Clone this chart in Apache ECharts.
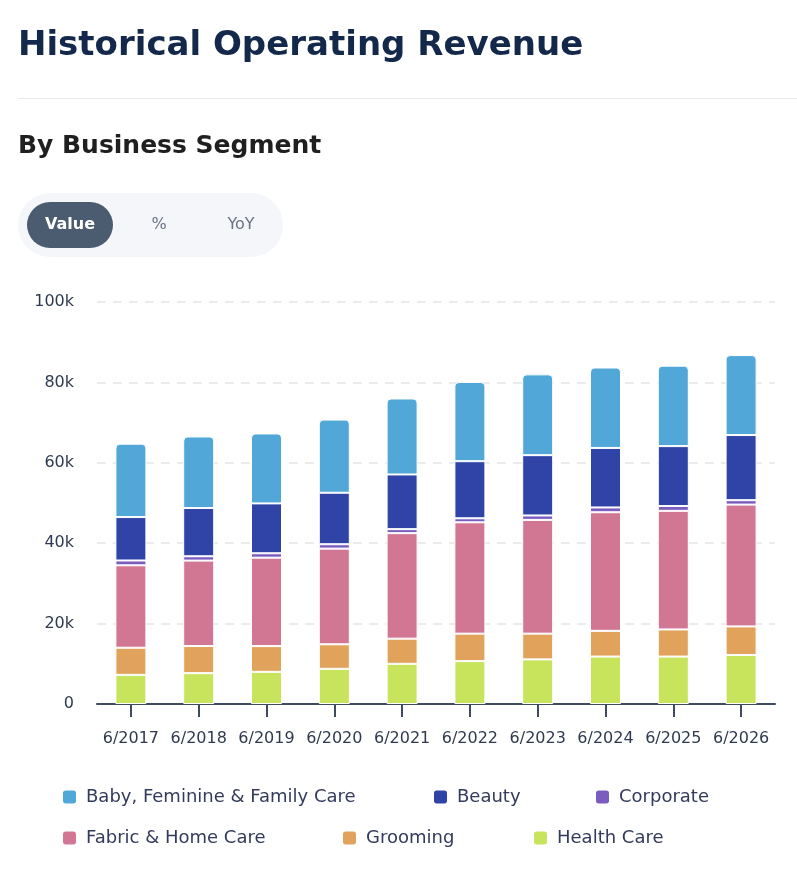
<!DOCTYPE html>
<html>
<head>
<meta charset="utf-8">
<script src="https://cdn.jsdelivr.net/npm/echarts@6/dist/echarts.min.js"></script>
<style>
    html, body {margin:0;padding:0;background:#fff}
    #chart {width:797px;height:880px}
</style>
</head>
<body>
<div id="chart"></div>
<script>
    var years = ['6/2017', '6/2018', '6/2019', '6/2020', '6/2021', '6/2022', '6/2023', '6/2024', '6/2025', '6/2026'];
    var yTicks = [0, 20000, 40000, 60000, 80000, 100000];

    // segment values (millions), stacked bottom -> top
    var healthCare = [7250, 7670, 8000, 8750, 10000, 10670, 11100, 11800, 11800, 12200];
    var grooming = [6750, 6750, 6400, 6100, 6250, 6830, 6400, 6400, 6750, 7100];
    var fabricHome = [20500, 21250, 22000, 23800, 26250, 27700, 28300, 29500, 29500, 30300];
    var corporate = [1200, 1080, 1100, 1100, 1000, 1000, 1100, 1200, 1200, 1100];
    var beauty = [10800, 12000, 12400, 12800, 13600, 14200, 15000, 14800, 14900, 16200];
    var babyFamily = [18250, 17800, 17400, 18200, 18900, 19700, 20100, 20000, 20000, 19900];

    var FONT = '"DejaVu Sans", sans-serif';
    var chart = echarts.init(document.getElementById('chart'), null, {renderer: 'canvas'});

    function bar(name, data, color, top) {
        return {
            name: name,
            type: 'bar',
            stack: 'total',
            barWidth: 31,
            data: data,
            itemStyle: {
                color: color,
                borderColor: '#fff',
                borderWidth: 1,
                borderRadius: top ? [4, 4, 0, 0] : 0
            },
            emphasis: {disabled: true}
        };
    }

    function legendItem(name, left, top) {
        return {
            data: [name],
            left: left,
            top: top,
            padding: 0,
            icon: 'roundRect',
            itemWidth: 15,
            itemHeight: 15,
            selectedMode: false,
            textStyle: {fontFamily: FONT, fontSize: 18, color: '#343a5c', padding: [0, 0, 0, 4]}
        };
    }

    var option = {
        animation: false,
        backgroundColor: '#fff',
        graphic: [
            {type: 'text', x: 18, y: 46, style: {text: 'Historical Operating Revenue', font: 'bold 34px ' + FONT, fill: '#14284b', verticalAlign: 'middle'}},
            {type: 'line', shape: {x1: 18, y1: 98.5, x2: 797, y2: 98.5}, style: {stroke: '#e6e8ec', lineWidth: 1}},
            {type: 'text', x: 18, y: 146, style: {text: 'By Business Segment', font: 'bold 25px ' + FONT, fill: '#1f1f1f', verticalAlign: 'middle'}},
            {type: 'rect', shape: {x: 18, y: 193, width: 265, height: 64, r: 32}, style: {fill: '#f4f6fa'}},
            {type: 'rect', shape: {x: 27, y: 202, width: 86, height: 46, r: 23}, style: {fill: '#4b5b70'}},
            {type: 'text', x: 70, y: 225, style: {text: 'Value', font: 'bold 16px ' + FONT, fill: '#fff', align: 'center', verticalAlign: 'middle'}},
            {type: 'text', x: 159, y: 225, style: {text: '%', font: '16px ' + FONT, fill: '#6b7383', align: 'center', verticalAlign: 'middle'}},
            {type: 'text', x: 241, y: 225, style: {text: 'YoY', font: '16px ' + FONT, fill: '#6b7383', align: 'center', verticalAlign: 'middle'}}
        ],
        legend: [
            legendItem('Baby, Feminine & Family Care', 61, 788),
            legendItem('Beauty', 432, 788),
            legendItem('Corporate', 594, 788),
            legendItem('Fabric & Home Care', 61, 829),
            legendItem('Grooming', 341, 829),
            legendItem('Health Care', 532, 829)
        ],
        grid: {left: 97, right: 22, top: 302, bottom: 176},
        xAxis: {
            type: 'category',
            data: years,
            axisLine: {lineStyle: {color: '#3f4b5e', width: 2}},
            axisTick: {show: true, alignWithLabel: true, length: 13, lineStyle: {color: '#3f4b5e', width: 2}},
            axisLabel: {fontFamily: FONT, fontSize: 16, color: '#2f3a50', margin: 27, interval: 0}
        },
        yAxis: {
            type: 'value',
            min: yTicks[0],
            max: yTicks[yTicks.length - 1],
            interval: yTicks[1] - yTicks[0],
            axisLine: {show: false},
            axisTick: {show: false},
            axisLabel: {
                fontFamily: FONT, fontSize: 16, color: '#2f3a50', margin: 23,
                formatter: function (v) { return v === 0 ? '0' : (v / 1000) + 'k'; }
            },
            splitLine: {lineStyle: {color: '#e6e6e6', width: 1.5, type: [9, 7]}}
        },
        series: [
            bar('Health Care', healthCare, '#c8e35c'),
            bar('Grooming', grooming, '#e1a35b'),
            bar('Fabric & Home Care', fabricHome, '#d17794'),
            bar('Corporate', corporate, '#7b5dbf'),
            bar('Beauty', beauty, '#2f44a6'),
            bar('Baby, Feminine & Family Care', babyFamily, '#50a7d8', true)
        ]
    };
    chart.setOption(option);
</script>
</body>
</html>
